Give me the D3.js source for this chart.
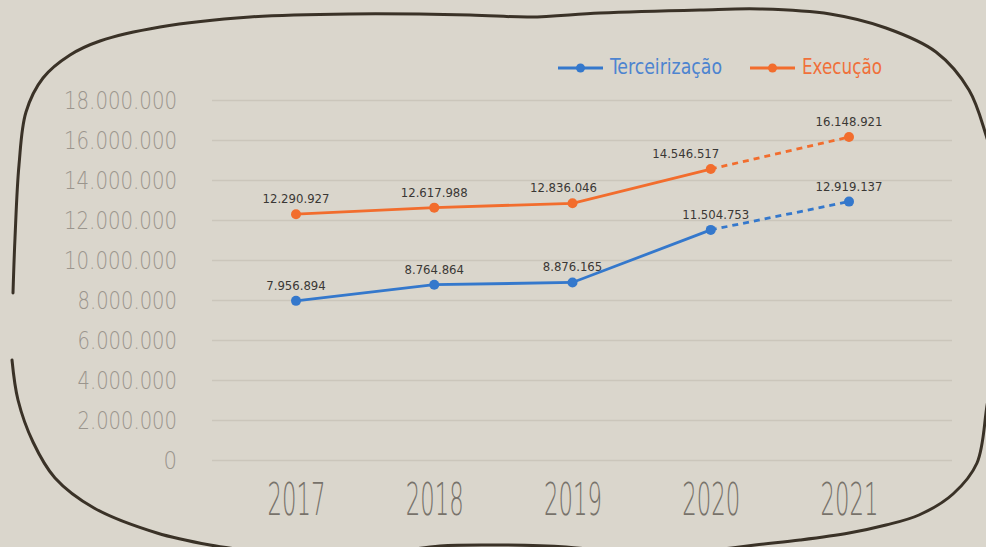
<!DOCTYPE html>
<html>
<head>
<meta charset="utf-8">
<script src="https://cdn.jsdelivr.net/npm/d3@7"></script>
<style>
  body { margin: 0; background: #dad6cc; }
  svg { display: block; }
</style>
</head>
<body>
<svg id="chart" width="986" height="547"></svg>
<script>
// Data
const years = [2017, 2018, 2019, 2020, 2021];
const terceirizacao = [7956894, 8764864, 8876165, 11504753, 12919137];
const execucao = [12290927, 12617988, 12836046, 14546517, 16148921];
const yTicks = [0, 2000000, 4000000, 6000000, 8000000, 10000000, 12000000, 14000000, 16000000, 18000000];
const seriesNames = ['Terceirização', 'Execução'];

// Hand drawn frame (decoration only)
const framePieces = [
  [[13,293],[15,238],[19,165],[26,112],[43,78],[70,55],[100,41],[160,27],[250,17],[350,14],[470,15],[530,17],[600,13],[700,10],[760,9],[830,14],[886,28],[936,52],[969,90],[986,135],[998,180]],
  [[998,360],[988,400],[977,463],[953,494],[919,515],[886,525],[849,533],[800,540],[755,545],[700,552]],
  [[12,360],[18,400],[33,442],[55,478],[94,508],[157,533],[210,545],[260,552]],
  [[390,553],[440,546],[500,545],[566,547],[620,553]]
];

const colors = {'Terceirização': '#3478cc', 'Execução': '#f26d2d'};
const legendText = {'Terceirização': '#4d84d0', 'Execução': '#f0703a'};

let svg = d3.select('#chart');
svg.append('rect').attr('width', 986).attr('height', 547).attr('fill', '#dad6cc');

let x = d3.scalePoint().domain(years).range([296, 849]);
let y = d3.scaleLinear().domain([0, 18000000]).range([460, 100]);

const ptBR = d3.formatLocale({decimal: ',', thousands: '.', grouping: [3], currency: ['R$', '']});
const fmt = ptBR.format(',d');

/* Y axis with grid lines */
let yAxis = svg.append('g')
  .attr('transform', 'translate(212,0)')
  .call(d3.axisLeft(y).tickValues(yTicks).tickSize(-740).tickPadding(35).tickFormat(fmt));
yAxis.select('.domain').remove();
yAxis.selectAll('.tick line').attr('stroke', '#cbc6bb').attr('stroke-width', 1.5);
yAxis.selectAll('.tick text')
  .attr('font-family', 'DejaVu Sans, sans-serif')
  .attr('font-weight', 200)
  .attr('font-size', 24)
  .attr('fill', '#9a958d')
  .attr('dy', 8)
  .each(function(d) {
    let s = fmt(d);
    let digits = s.replace(/\./g, '').length;
    let dots = s.length - digits;
    d3.select(this).attr('textLength', digits * 13.5 + dots * 2.5).attr('lengthAdjust', 'spacingAndGlyphs');
  });

/* X axis (years) */
let xAxis = svg.append('g')
  .attr('transform', 'translate(0,460)')
  .call(d3.axisBottom(x).tickSize(0).tickPadding(24).tickFormat(d3.format('d')));
xAxis.select('.domain').remove();
xAxis.selectAll('.tick text')
  .attr('font-family', 'DejaVu Sans, sans-serif')
  .attr('font-weight', 200)
  .attr('font-size', 44)
  .attr('fill', '#77726a')
  .attr('textLength', 58)
  .attr('lengthAdjust', 'spacingAndGlyphs');

/* Frame */
let frameLine = d3.line().curve(d3.curveCatmullRom);
svg.selectAll('path.frame').data(framePieces).enter().append('path')
  .attr('class', 'frame')
  .attr('d', frameLine)
  .attr('fill', 'none')
  .attr('stroke', '#3a3227')
  .attr('stroke-width', 3)
  .attr('stroke-linecap', 'round');

/* Series */
let series = [
  {name: 'Terceirização', values: terceirizacao},
  {name: 'Execução', values: execucao}
];
// small nudges so labels sit as in the original
const labelNudge = {'Execução-2020': -25, 'Terceirização-2020': 5, 'Execução-2019': -9};

let line = d3.line().x(d => x(d.year)).y(d => y(d.value));

series.forEach(s => {
  let pts = years.map((yr, i) => ({year: yr, value: s.values[i]}));
  let solid = pts.slice(0, 4);
  let dashed = pts.slice(3);
  let g = svg.append('g');
  g.append('path').attr('d', line(solid))
    .attr('fill', 'none').attr('stroke', colors[s.name]).attr('stroke-width', 2.8);
  g.append('path').attr('d', line(dashed))
    .attr('fill', 'none').attr('stroke', colors[s.name]).attr('stroke-width', 2.8)
    .attr('stroke-dasharray', '6,5');
  g.selectAll('circle').data(pts).enter().append('circle')
    .attr('cx', d => x(d.year)).attr('cy', d => y(d.value)).attr('r', 5)
    .attr('fill', colors[s.name]);
  g.selectAll('text').data(pts).enter().append('text')
    .attr('x', d => x(d.year) + (labelNudge[s.name + '-' + d.year] || 0))
    .attr('y', d => y(d.value) - 11)
    .attr('text-anchor', 'middle')
    .attr('font-family', 'DejaVu Sans Condensed, DejaVu Sans, sans-serif')
    .attr('font-size', 13)
    .attr('fill', '#3a3835')
    .text(d => fmt(d.value));
});

/* Legend */
let legendX = {'Terceirização': 558, 'Execução': 750};
let legendLen = {'Terceirização': 112, 'Execução': 80};
let legend = svg.append('g');
seriesNames.forEach(name => {
  let lx = legendX[name];
  legend.append('line').attr('x1', lx).attr('x2', lx + 45).attr('y1', 68).attr('y2', 68)
    .attr('stroke', colors[name]).attr('stroke-width', 2.8);
  legend.append('circle').attr('cx', lx + 22.5).attr('cy', 68).attr('r', 4.5).attr('fill', colors[name]);
  legend.append('text').attr('x', lx + 52).attr('y', 74)
    .attr('font-family', 'DejaVu Sans Condensed, DejaVu Sans, sans-serif')
    .attr('font-size', 21)
    .attr('fill', legendText[name])
    .attr('textLength', legendLen[name])
    .attr('lengthAdjust', 'spacingAndGlyphs')
    .text(name);
});
</script>
</body>
</html>
